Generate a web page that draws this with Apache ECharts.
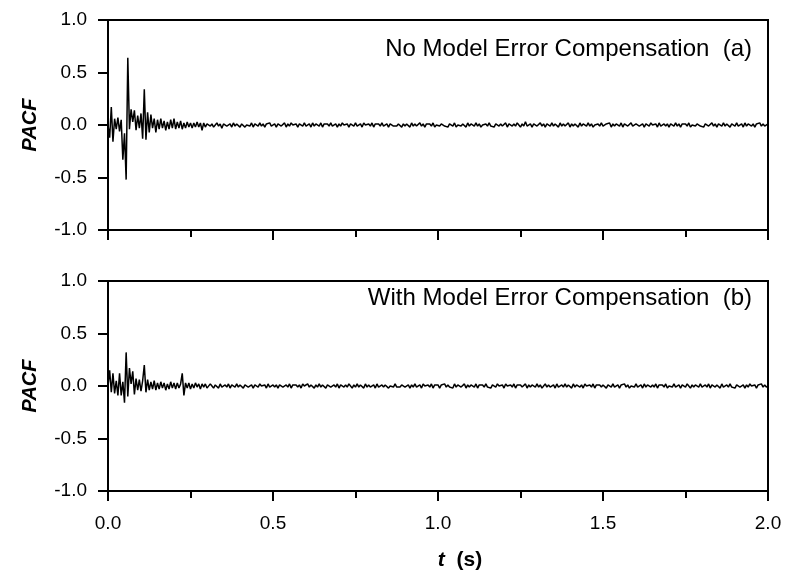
<!DOCTYPE html>
<html>
<head>
<meta charset="utf-8">
<script src="https://cdn.jsdelivr.net/npm/echarts@6/dist/echarts.min.js"></script>
<style>
html,body{margin:0;padding:0;background:#fff;}
#chart{width:790px;height:582px;}
</style>
</head>
<body>
<div id="chart"></div>
<script>
// Sampling step of the PACF traces (s)
const dt = 0.005;

// Panel (a): No Model Error Compensation — PACF values
const pacfA = [
0.00,-0.12,0.17,-0.16,0.06,-0.04,0.07,-0.06,0.05,-0.33,
-0.08,-0.52,0.64,-0.04,0.15,0.03,0.14,-0.05,0.09,-0.03,
0.11,-0.13,0.34,-0.14,0.12,-0.07,0.10,-0.03,0.06,-0.07,
0.05,-0.04,0.06,-0.03,0.04,-0.05,0.03,-0.04,0.05,-0.03,
0.06,-0.04,0.03,-0.03,0.04,-0.04,0.02,-0.03,0.03,-0.02,
0.02,-0.03,0.02,-0.02,0.03,-0.02,0.02,-0.05,0.02,-0.02,0.01,
0.02,-0.01,0.01,-0.02,0.00,0.02,-0.01,0.01,-0.03,0.01,0.02,-0.01,0.00,0.01,-0.02,0.02,-0.01,0.01,0.00,-0.02,
0.01,0.02,-0.02,0.00,0.01,-0.01,0.02,-0.02,0.01,0.00,-0.01,0.02,-0.01,0.01,-0.02,0.01,0.00,0.02,-0.01,-0.01,
0.01,-0.02,0.01,0.01,-0.01,0.00,0.02,-0.02,0.01,-0.01,0.02,0.00,-0.01,0.01,-0.02,0.01,0.01,-0.01,0.02,-0.01,
0.00,0.01,-0.02,0.02,-0.01,0.01,0.00,-0.01,0.02,-0.02,0.01,0.00,0.01,-0.01,0.02,-0.01,0.00,0.01,-0.02,0.01,
-0.01,0.02,0.00,-0.01,0.01,-0.02,0.01,0.01,-0.01,0.02,-0.01,0.00,0.01,-0.02,0.02,0.00,-0.01,0.01,-0.01,0.02,
-0.02,0.01,0.00,0.01,-0.01,0.02,-0.01,0.00,0.01,-0.02,0.01,0.02,-0.01,0.00,-0.01,0.01,0.02,-0.02,0.01,-0.01,
0.01,0.00,-0.02,0.02,-0.01,0.01,-0.01,0.00,0.02,-0.01,0.01,-0.02,0.01,0.00,0.01,-0.01,0.02,-0.02,0.00,0.01,
-0.01,0.01,0.02,-0.01,0.00,-0.02,0.01,0.01,-0.01,0.02,-0.02,0.00,0.01,-0.01,0.01,0.00,-0.02,0.02,-0.01,0.01,
0.00,-0.01,0.02,-0.01,0.01,-0.02,0.00,0.01,0.01,-0.01,0.02,-0.01,0.00,-0.02,0.01,0.02,-0.01,0.01,-0.01,0.00,
0.02,-0.02,0.01,0.00,-0.01,0.01,-0.01,0.02,0.00,-0.02,0.01,-0.01,0.03,-0.01,0.00,0.01,-0.02,0.01,0.01,-0.01,
0.00,0.02,-0.01,0.01,-0.02,0.01,0.00,-0.01,0.02,-0.01,0.01,0.00,-0.02,0.02,-0.01,0.01,-0.01,0.00,0.02,-0.02,
0.01,-0.01,0.01,0.00,-0.02,0.02,-0.01,0.01,0.00,-0.01,0.02,-0.01,0.01,-0.02,0.00,0.01,0.01,-0.01,0.02,-0.01,
-0.01,0.01,0.00,0.02,-0.02,0.01,-0.01,0.01,0.00,-0.01,0.02,-0.02,0.01,0.01,-0.01,0.00,0.02,-0.01,-0.01,0.01,
0.02,-0.01,0.00,0.01,-0.02,0.01,0.01,-0.01,0.02,0.00,-0.01,0.01,-0.02,0.02,-0.01,0.00,0.01,-0.01,0.01,-0.02,
0.01,0.00,-0.01,0.02,-0.01,0.01,-0.02,0.01,0.00,0.01,-0.01,0.02,-0.02,0.00,0.01,-0.01,0.01,0.02,-0.01,0.00,
-0.02,0.01,0.01,-0.01,0.00,0.02,-0.01,0.01,-0.02,0.01,0.00,-0.01,0.02,-0.01,0.01,0.00,-0.02,0.01,0.01,-0.01,
0.02,-0.01,0.00,0.01,-0.02,0.02,-0.01,0.01,0.00,-0.01,0.01,-0.02,0.01,0.00,0.02,-0.01,0.01,-0.01,0.00,0.01
];

// Panel (b): With Model Error Compensation — PACF values
const pacfB = [
0.00,0.15,-0.06,0.12,-0.07,0.05,-0.09,0.12,-0.09,0.04,
-0.16,0.32,-0.10,0.17,0.02,0.14,-0.08,0.07,-0.04,0.06,
-0.05,0.05,0.20,-0.06,0.06,-0.04,0.04,-0.03,0.05,-0.04,
0.03,-0.03,0.04,-0.02,0.03,-0.04,0.02,-0.03,0.04,-0.02,
0.03,-0.03,0.03,-0.02,0.02,0.12,-0.09,0.03,-0.02,0.03,
-0.03,0.02,-0.02,0.03,-0.01,0.02,-0.03,0.02,-0.01,0.02,-0.02,
-0.01,0.02,0.00,-0.02,0.01,0.01,-0.02,0.02,-0.01,0.00,0.01,-0.01,0.02,-0.02,0.01,0.00,-0.01,0.02,-0.01,0.01,
0.00,-0.02,0.01,0.02,-0.01,0.00,0.01,-0.02,0.01,0.01,-0.01,0.02,0.00,-0.01,0.01,-0.02,0.02,-0.01,0.00,0.01,
-0.01,0.01,-0.02,0.01,0.02,-0.01,0.00,0.01,-0.01,0.02,-0.02,0.01,0.00,0.01,-0.01,0.01,-0.02,0.02,0.00,-0.01,
0.02,-0.01,0.01,0.00,-0.02,0.01,-0.01,0.02,-0.01,0.01,0.00,-0.02,0.01,0.02,-0.01,0.00,0.01,-0.01,0.02,-0.02,
0.01,0.00,-0.01,0.01,-0.01,0.02,0.00,-0.02,0.01,-0.01,0.02,-0.01,0.01,0.00,-0.02,0.02,-0.01,0.01,-0.01,0.00,
0.01,-0.02,0.02,-0.01,0.00,0.01,-0.01,0.01,0.02,-0.02,0.00,0.01,-0.01,0.02,-0.01,0.00,-0.01,0.01,0.02,-0.01,
0.00,0.01,-0.02,0.01,-0.01,0.02,-0.01,0.00,0.01,-0.02,0.02,0.00,-0.01,0.01,-0.01,0.02,-0.02,0.01,0.00,0.01,
-0.02,0.01,0.00,0.02,-0.01,0.01,-0.01,0.00,-0.02,0.02,-0.01,0.01,0.01,-0.01,0.00,0.02,-0.02,0.01,-0.01,0.01,
0.00,-0.01,0.02,-0.02,0.01,0.00,0.01,-0.01,0.02,-0.01,0.00,-0.02,0.01,0.01,-0.01,0.02,0.00,-0.01,0.01,-0.02,
0.02,0.00,-0.01,0.01,-0.01,0.02,-0.02,0.01,0.00,0.01,-0.01,0.00,0.02,-0.02,0.01,-0.01,0.01,0.00,-0.01,0.02,
-0.01,0.01,-0.02,0.00,0.02,-0.01,0.01,-0.01,0.00,0.01,-0.02,0.02,-0.01,0.00,0.01,-0.01,0.02,-0.01,0.01,0.00,
-0.02,0.02,-0.01,0.01,0.00,-0.01,0.01,-0.02,0.02,0.00,-0.01,0.01,-0.01,0.02,-0.02,0.01,0.00,0.01,-0.01,0.01,
0.00,-0.02,0.01,0.01,-0.01,0.02,-0.01,0.00,0.01,-0.02,0.01,0.00,0.02,-0.01,0.01,-0.02,0.00,0.01,-0.01,0.02,
-0.01,0.00,0.01,-0.02,0.02,-0.01,0.01,0.00,-0.01,0.01,-0.01,0.02,-0.02,0.01,0.00,0.01,-0.01,0.02,-0.02,0.00,
0.01,-0.01,0.02,-0.01,0.00,0.01,-0.02,0.01,0.01,-0.01,0.02,0.00,-0.02,0.01,-0.01,0.01,0.00,-0.01,0.02,-0.01,
0.00,0.01,-0.01,0.02,-0.02,0.01,0.00,-0.01,0.01,0.01,-0.02,0.02,-0.01,0.00,0.01,-0.01,0.02,-0.01,0.00,-0.02,
0.01,0.02,-0.01,0.00,0.01,-0.02,0.01,-0.01,0.02,0.00,-0.01,0.01,-0.02,0.01,0.00,0.02,-0.01,0.01,-0.01,0.00
];

// Axis ticks
const xTicks = [0.0, 0.5, 1.0, 1.5, 2.0];
const yTicks = [-1.0, -0.5, 0.0, 0.5, 1.0];

const panelLabels = ['No Model Error Compensation  (a)', 'With Model Error Compensation  (b)'];

const FONT = '"Liberation Sans", Arial, Helvetica, sans-serif';

function pairs(vals) {
  return vals.map((v, i) => [+(i * dt).toFixed(4), v]);
}

const chart = echarts.init(document.getElementById('chart'), null, {renderer: 'canvas'});

const grids = [
  {left: 108, right: 22, top: 20, height: 210},
  {left: 108, right: 22, top: 281, height: 210}
].map(g => Object.assign(g, {show: true, borderColor: '#000', borderWidth: 2, backgroundColor: 'transparent', containLabel: false}));

function xAxis(gi, showLabels) {
  return {
    type: 'value', gridIndex: gi,
    min: xTicks[0], max: xTicks[xTicks.length - 1], interval: 0.5,
    axisLine: {show: true, onZero: false, lineStyle: {color: '#000', width: 2}},
    axisTick: {show: true, inside: false, length: 10, lineStyle: {color: '#000', width: 2}},
    minorTick: {show: true, splitNumber: 2, length: 7, lineStyle: {color: '#000', width: 2}},
    splitLine: {show: false},
    axisLabel: {show: showLabels, margin: 23, color: '#000', fontFamily: FONT, fontSize: 19,
      formatter: v => v.toFixed(1)}
  };
}

function yAxis(gi) {
  return {
    type: 'value', gridIndex: gi,
    min: yTicks[0], max: yTicks[yTicks.length - 1], interval: 0.5,
    axisLine: {show: true, onZero: false, lineStyle: {color: '#000', width: 2}},
    axisTick: {show: true, inside: false, length: 10, lineStyle: {color: '#000', width: 2}},
    splitLine: {show: false},
    axisLabel: {show: true, margin: 21, color: '#000', fontFamily: FONT, fontSize: 19,
      formatter: v => v.toFixed(1)}
  };
}

const option = {
  animation: false,
  backgroundColor: '#fff',
  grid: grids,
  xAxis: [xAxis(0, false), xAxis(1, true)],
  yAxis: [yAxis(0), yAxis(1)],
  series: [
    {type: 'line', xAxisIndex: 0, yAxisIndex: 0, data: pairs(pacfA), showSymbol: false, symbol: 'none',
      lineStyle: {color: '#000', width: 1.5}, z: 3},
    {type: 'line', xAxisIndex: 1, yAxisIndex: 1, data: pairs(pacfB), showSymbol: false, symbol: 'none',
      lineStyle: {color: '#000', width: 1.5}, z: 3}
  ],
  graphic: [
    {type: 'text', right: 38, top: 37, style: {text: panelLabels[0], font: '24px ' + FONT, fill: '#000'}},
    {type: 'text', right: 38, top: 286, style: {text: panelLabels[1], font: '24px ' + FONT, fill: '#000'}},
    {type: 'text', x: 30, y: 125, rotation: Math.PI / 2,
      style: {text: 'PACF', font: 'italic bold 20px ' + FONT, fill: '#000', align: 'center', verticalAlign: 'middle'}},
    {type: 'text', x: 30, y: 386, rotation: Math.PI / 2,
      style: {text: 'PACF', font: 'italic bold 20px ' + FONT, fill: '#000', align: 'center', verticalAlign: 'middle'}},
    {type: 'text', x: 460, y: 560,
      style: {
        text: '{t|t}{s|  (s)}', align: 'center', verticalAlign: 'middle',
        rich: {
          t: {font: 'italic bold 21px ' + FONT, fill: '#000'},
          s: {font: 'bold 21px ' + FONT, fill: '#000'}
        }
      }}
  ]
};

chart.setOption(option);
</script>
</body>
</html>
